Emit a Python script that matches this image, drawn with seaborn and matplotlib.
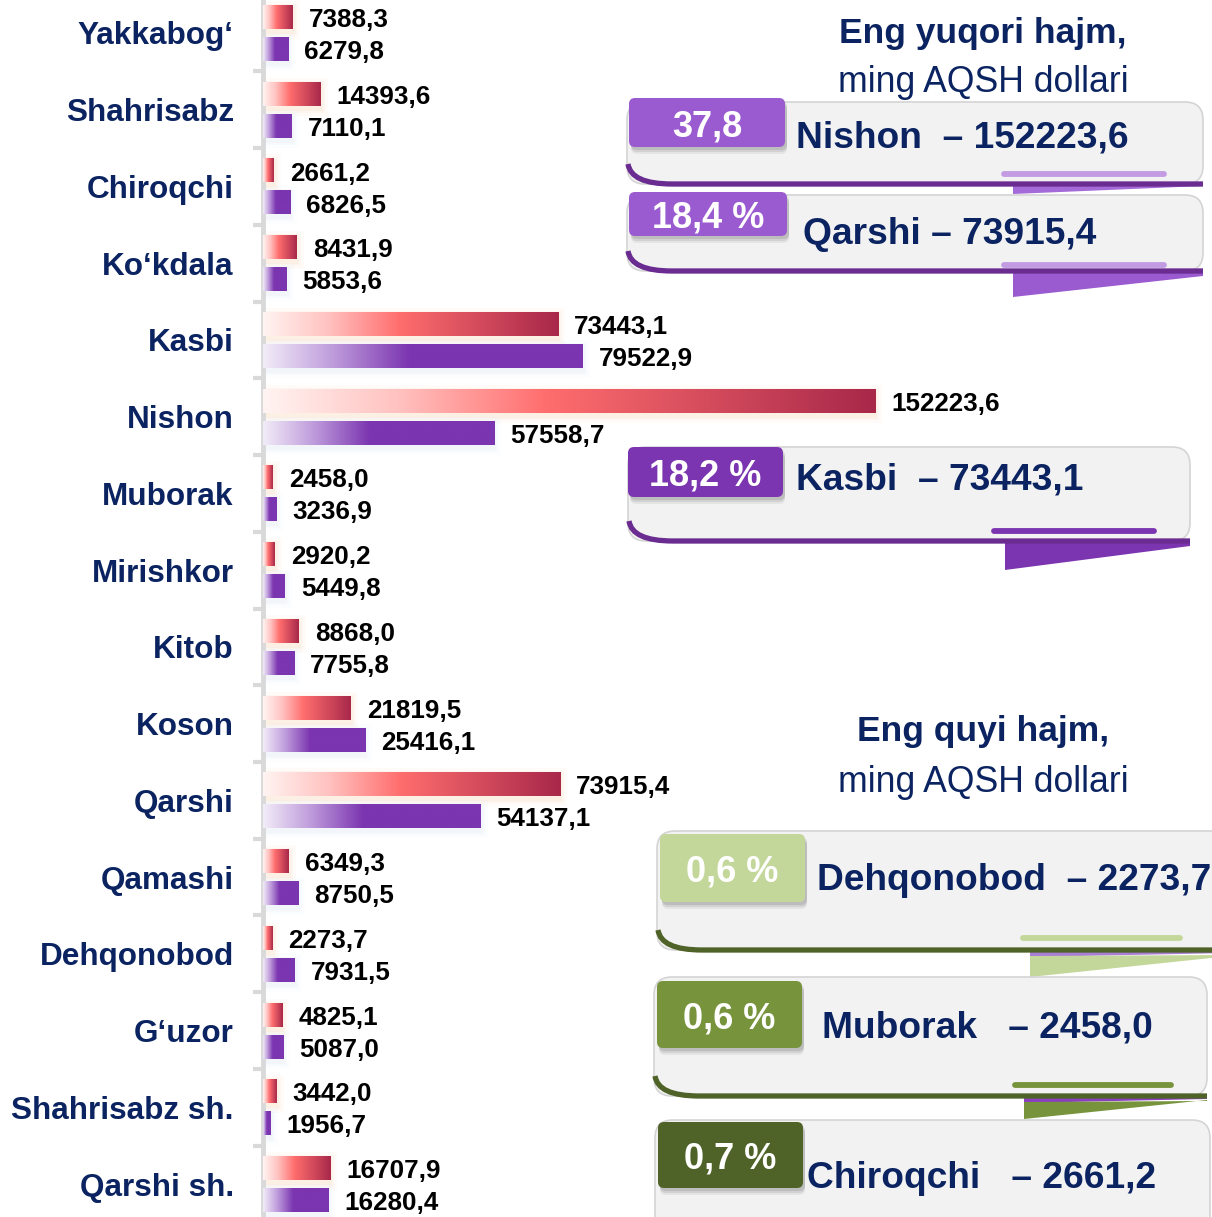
import numpy as np
import pandas as pd
import matplotlib
matplotlib.use("Agg")
import matplotlib.pyplot as plt
import seaborn as sns
from matplotlib.patches import FancyBboxPatch, Polygon, Rectangle, PathPatch
from matplotlib.path import Path
from matplotlib.colors import LinearSegmentedColormap

# ---- data -------------------------------------------------------------
districts = ["Yakkabog‘", "Shahrisabz", "Chiroqchi", "Ko‘kdala", "Kasbi",
             "Nishon", "Muborak", "Mirishkor", "Kitob", "Koson", "Qarshi",
             "Qamashi", "Dehqonobod", "G‘uzor", "Shahrisabz sh.", "Qarshi sh."]
current = [7388.3, 14393.6, 2661.2, 8431.9, 73443.1, 152223.6, 2458.0, 2920.2,
           8868.0, 21819.5, 73915.4, 6349.3, 2273.7, 4825.1, 3442.0, 16707.9]
previous = [6279.8, 7110.1, 6826.5, 5853.6, 79522.9, 57558.7, 3236.9, 5449.8,
            7755.8, 25416.1, 54137.1, 8750.5, 7931.5, 5087.0, 1956.7, 16280.4]
periods = ["joriy", "oldingi"]

top_names = ["Nishon", "Qarshi", "Kasbi"]
top_shares = ["37,8", "18,4 %", "18,2 %"]
low_names = ["Dehqonobod", "Muborak", "Chiroqchi"]
low_shares = ["0,6 %", "0,6 %", "0,7 %"]

NAVY = "#0B2461"
RED_MAIN = "#F0646A"
PURPLE = "#7B35B0"

sns.set_theme(style="white")
plt.rcParams["font.family"] = ["Liberation Sans", "DejaVu Sans"]

W, H = 1212, 1217
fig = plt.figure(figsize=(W / 100, H / 100), dpi=100)
fig.patch.set_facecolor("white")
ax = fig.add_axes([263 / W, 0, (W - 263) / W, 1])
ax.set_facecolor("none")

df = pd.DataFrame({
    "tuman": districts * 2,
    "qiymat": current + previous,
    "davr": [periods[0]] * len(districts) + [periods[1]] * len(districts),
})
sns.barplot(data=df, y="tuman", x="qiymat", hue="davr", hue_order=periods,
            palette=[RED_MAIN, PURPLE], orient="h", width=0.834, gap=0.25,
            errorbar=None, legend=False, ax=ax)

XMAX = 236000
ax.set_xlim(0, XMAX)
ax.set_ylim(15.43, -0.43)

# gradient fills clipped to each bar
red_cmap = LinearSegmentedColormap.from_list(
    "red_grad", [(0, "#FFF4F2"), (0.22, "#FFC2C0"), (0.46, "#FF6E6E"), (1.0, "#A8284A")])
purple_cmap = LinearSegmentedColormap.from_list(
    "purple_grad", [(0, "#F2ECF8"), (0.22, "#BE9BDB"), (0.46, "#7B35B0"), (1.0, "#7B35B0")])

px_x = XMAX / (W - 263)       # data units per pixel (x)
px_y = 1 / 76.73              # data units per pixel (y)
bars = list(ax.patches)
n = len(districts)
grad = np.linspace(0, 1, 256).reshape(1, -1)
for k, p in enumerate(bars):
    x0, y0 = p.get_xy()
    w, h = p.get_width(), p.get_height()
    is_red = k < n
    glow = "#FAD3B0" if is_red else "#DCE4F3"
    for pad, a in [(7, 0.07), (4, 0.12), (2, 0.18)]:
        ax.add_patch(Rectangle((x0, y0 + 3 * px_y - pad * px_y),
                               w + pad * px_x, h + 2 * pad * px_y,
                               facecolor=glow, edgecolor="none", alpha=a, zorder=1))
    im = ax.imshow(grad, cmap=red_cmap if is_red else purple_cmap,
                   extent=[x0, x0 + w, y0 + h, y0], aspect="auto",
                   interpolation="bicubic", zorder=3)
    im.set_clip_path(p)
    p.set_facecolor("none")
    p.set_edgecolor("none")
    p.set_zorder(3)

ax.set_xlim(0, XMAX)
ax.set_ylim(15.43, -0.43)


def fmt(v):
    return f"{v:.1f}".replace(".", ",")


# value labels
for k, p in enumerate(bars):
    i = k % n
    v = current[i] if k < n else previous[i]
    yc = p.get_y() + p.get_height() / 2
    ax.annotate(fmt(v), xy=(v, yc), xytext=(11.5, -2.2), textcoords="offset points",
                ha="left", va="center", fontsize=18.7, fontweight="bold",
                color="black", zorder=5)

# axis styling
sns.despine(ax=ax, left=False, bottom=True, top=True, right=True)
ax.spines["left"].set_color("#D9D9D9")
ax.spines["left"].set_linewidth(3.5)
ax.set_xticks([])
ax.set_xlabel("")
ax.set_ylabel("")
ax.set_yticks(range(n))
ax.set_yticklabels(districts, fontsize=22.7, fontweight="bold", color=NAVY)
ax.set_yticks(np.arange(0.5, n - 1, 1), minor=True)
ax.tick_params(axis="y", which="major", length=0, pad=21)
ax.tick_params(axis="y", which="minor", length=7, width=3, color="#D9D9D9", left=True)

# ---- callout panels (pixel coordinates) --------------------------------
ov = fig.add_axes([0, 0, 1, 1])
ov.set_xlim(0, W)
ov.set_ylim(H, 0)
ov.axis("off")
ov.patch.set_alpha(0)

DY = 3  # baseline correction for centred text


def callout(box, badge, badge_color, share, label, text_x, text_y,
            edge_color, pill, pill_color, fold=None, fold_color=None, sliver=None):
    x0, y0, x1, y1 = box
    ov.add_patch(FancyBboxPatch((x0, y0), x1 - x0, y1 - y0,
                                boxstyle="round,pad=0,rounding_size=18",
                                facecolor="#F2F2F2", edgecolor="#D4D4D4",
                                linewidth=1.2, zorder=2))
    # curled bottom edge
    verts = [(x0 + 1, y1 - 20), (x0 + 4, y1), (x0 + 45, y1), (x1, y1)]
    codes = [Path.MOVETO, Path.CURVE3, Path.CURVE3, Path.LINETO]
    ov.add_patch(PathPatch(Path(verts, codes), facecolor="none",
                           edgecolor=edge_color, linewidth=3.8, zorder=3,
                           capstyle="butt"))
    # folded ribbon end
    if fold is not None:
        fx, fy_low, fy_right = fold
        if sliver is not None:
            ov.add_patch(Polygon([(fx, y1 + 1), (x1, y1 + 1), (x1, y1 + 3), (fx, y1 + 7)],
                                 closed=True, facecolor=sliver, edgecolor="none", zorder=2))
            top = y1 + 6
        else:
            top = y1 + 1
        ov.add_patch(Polygon([(fx, top), (x1, top - 1), (x1, fy_right), (fx, fy_low)],
                             closed=True, facecolor=fold_color, edgecolor="none", zorder=2))
    # underline pill
    px0, px1, py = pill
    ov.plot([px0, px1], [py, py], color=pill_color, linewidth=4.2,
            solid_capstyle="round", zorder=3)
    # badge with soft shadow
    bx0, by0, bx1, by1 = badge
    for off, a in [(7, 0.10), (5, 0.16), (3, 0.2)]:
        ov.add_patch(FancyBboxPatch((bx0 + 2, by0 + off), bx1 - bx0, by1 - by0,
                                    boxstyle="round,pad=0,rounding_size=6",
                                    facecolor="#6E6E6E", edgecolor="none",
                                    alpha=a, zorder=3))
    ov.add_patch(FancyBboxPatch((bx0, by0), bx1 - bx0, by1 - by0,
                                boxstyle="round,pad=0,rounding_size=6",
                                facecolor=badge_color, edgecolor="none", zorder=4))
    ov.text((bx0 + bx1) / 2, (by0 + by1) / 2 + 1 + DY, share, ha="center", va="center",
            fontsize=26, fontweight="bold", color="white", zorder=5)
    ov.text(text_x, text_y + DY, label, ha="left", va="center", fontsize=26.7,
            fontweight="bold", color=NAVY, zorder=5)


idx = {d: i for i, d in enumerate(districts)}

ov.text(983, 30 + DY, "Eng yuqori hajm,", ha="center", va="center", fontsize=25.5,
        fontweight="bold", color=NAVY)
ov.text(983, 80 + DY, "ming AQSH dollari", ha="center", va="center", fontsize=25.7,
        color=NAVY)
ov.text(983, 728 + DY, "Eng quyi hajm,", ha="center", va="center", fontsize=25.5,
        fontweight="bold", color=NAVY)
ov.text(983, 779 + DY, "ming AQSH dollari", ha="center", va="center", fontsize=25.7,
        color=NAVY)

callout((627, 102, 1203, 184), (629, 98, 785, 147), "#9B5BD0", top_shares[0],
        f"{top_names[0]}  – {fmt(current[idx[top_names[0]]])}", 796, 135,
        "#6A2C91", (1004, 1164, 174), "#C29BE2",
        fold=(1013, 194, 186), fold_color="#A46AD8")
callout((627, 195, 1203, 271), (629, 192, 787, 236), "#9B5BD0", top_shares[1],
        f"{top_names[1]} – {fmt(current[idx[top_names[1]]])}", 803, 232,
        "#6A2C91", (1004, 1164, 265), "#C29BE2",
        fold=(1013, 297, 276), fold_color="#9B5BD0")
callout((628, 447, 1190, 541), (628, 447, 783, 497), "#7B35B0", top_shares[2],
        f"{top_names[2]}  – {fmt(current[idx[top_names[2]]])}", 796, 477,
        "#6A2C91", (994, 1154, 531), "#7B35B0",
        fold=(1005, 570, 546), fold_color="#7B35B0")

callout((657, 831, 1230, 950), (660, 834, 805, 902), "#C4D79B", low_shares[0],
        f"{low_names[0]}  – {fmt(current[idx[low_names[0]]])}", 817, 878,
        "#4F6228", (1023, 1180, 938), "#C4D79B",
        fold=(1030, 977, 956), fold_color="#C4D79B", sliver="#A97FD6")
callout((654, 977, 1207, 1096), (657, 981, 802, 1048), "#77933C", low_shares[1],
        f"{low_names[1]}   – {fmt(current[idx[low_names[1]]])}", 822, 1025,
        "#4F6228", (1015, 1171, 1085), "#77933C",
        fold=(1024, 1119, 1100), fold_color="#77933C", sliver="#8A3FC0")
callout((655, 1120, 1210, 1240), (658, 1122, 803, 1188), "#4F6228", low_shares[2],
        f"{low_names[2]}   – {fmt(current[idx[low_names[2]]])}", 807, 1175,
        "#4F6228", (1015, 1171, 1300), "#4F6228")

fig.savefig("out.png", dpi=100, facecolor="white")
